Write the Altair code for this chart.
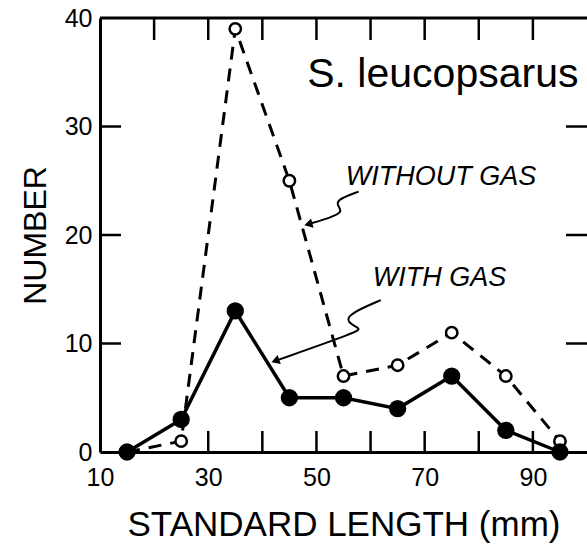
import altair as alt
import pandas as pd

# Data
lengths = [15, 25, 35, 45, 55, 65, 75, 85, 95]
without_gas = [0, 1, 39, 25, 7, 8, 11, 7, 1]
with_gas = [0, 3, 13, 5, 5, 4, 7, 2, 0]

x_ticks_top = [20, 30, 40, 50, 60, 70, 80, 90]
x_ticks_bottom = [30, 40, 50, 60, 70, 80, 90]
y_ticks = [10, 20, 30]
x_labels = [10, 30, 50, 70, 90]
y_labels = [0, 10, 20, 30, 40]

# annotation arrows (data coordinates)
arrow1_x = [57.8, 53.5, 54.1, 54.8, 52.6, 48.5]
arrow1_y = [24.0, 23.2, 22.6, 22.1, 21.6, 21.0]
arrow2_x = [61.9, 56.3, 55.4, 58.1, 57.8, 42.4]
arrow2_y = [14.0, 12.8, 12.0, 11.4, 11.1, 8.4]

W, H = 487, 434
FONT = "Liberation Sans"

xs = alt.Scale(domain=[10, 100], nice=False, zero=False)
ys = alt.Scale(domain=[0, 40], nice=False, zero=False)

df = pd.DataFrame({"x": lengths, "without": without_gas, "with": with_gas})

base = alt.Chart(df)

xax = alt.Axis(values=x_labels, ticks=False, grid=False, domainWidth=3, domainColor="black",
               labelFont=FONT, labelFontSize=25, labelColor="black", labelPadding=13,
               labelFlush=False, labelOverlap=False,
               title="STANDARD LENGTH (mm)", titleFont=FONT, titleFontSize=35,
               titleFontWeight="normal", titleColor="black", titlePadding=17)
yax = alt.Axis(values=y_labels, ticks=False, grid=False, domainWidth=3, domainColor="black",
               labelFont=FONT, labelFontSize=25, labelColor="black", labelPadding=8,
               labelFlush=False, labelOverlap=False,
               title="NUMBER", titleFont=FONT, titleFontSize=32,
               titleFontWeight="normal", titleColor="black", titlePadding=12)

dashed = base.mark_line(color="black", strokeWidth=3, strokeDash=[13, 9]).encode(
    x=alt.X("x:Q", scale=xs, axis=xax), y=alt.Y("without:Q", scale=ys, axis=yax))
solid = base.mark_line(color="black", strokeWidth=3.5).encode(
    x=alt.X("x:Q", scale=xs), y=alt.Y("with:Q", scale=ys))
open_pts = base.mark_point(shape="circle", size=130, filled=False, fill="white", fillOpacity=1,
                           color="black", strokeWidth=2.5, opacity=1).encode(
    x=alt.X("x:Q", scale=xs), y=alt.Y("without:Q", scale=ys))
filled_pts = base.mark_circle(size=300, color="black", opacity=1).encode(
    x=alt.X("x:Q", scale=xs), y=alt.Y("with:Q", scale=ys))

bottom_ticks = alt.Chart(pd.DataFrame({"v": x_ticks_bottom})).mark_rule(
    color="black", strokeWidth=2.5).encode(
    x=alt.X("v:Q", scale=xs), y=alt.value(H), y2=alt.value(H - 21))
top_ticks = alt.Chart(pd.DataFrame({"v": x_ticks_top})).mark_rule(
    color="black", strokeWidth=2.5).encode(
    x=alt.X("v:Q", scale=xs), y=alt.value(0), y2=alt.value(22))
yt = alt.Chart(pd.DataFrame({"v": y_ticks}))
left_ticks = yt.mark_rule(color="black", strokeWidth=2.5).encode(
    y=alt.Y("v:Q", scale=ys), x=alt.value(0), x2=alt.value(21))
right_ticks = yt.mark_rule(color="black", strokeWidth=2.5).encode(
    y=alt.Y("v:Q", scale=ys), x=alt.value(W - 21), x2=alt.value(W))
top_spine = alt.Chart(pd.DataFrame({"a": [0]})).mark_rule(color="black", strokeWidth=3).encode(
    x=alt.value(0), x2=alt.value(W), y=alt.value(0))

ann = pd.DataFrame({
    "x": [48.3, 55.4, 60.4],
    "y": [33.6, 24.6, 15.3],
    "t": ["S. leucopsarus", "WITHOUT GAS", "WITH GAS"],
})
title_txt = alt.Chart(ann.iloc[[0]]).mark_text(align="left", baseline="alphabetic", font=FONT,
                                               fontSize=41, color="black").encode(
    x=alt.X("x:Q", scale=xs), y=alt.Y("y:Q", scale=ys), text="t:N")
lab_txt = alt.Chart(ann.iloc[1:]).mark_text(align="left", baseline="alphabetic", font=FONT,
                                            fontSize=27, fontStyle="italic", color="black").encode(
    x=alt.X("x:Q", scale=xs), y=alt.Y("y:Q", scale=ys), text="t:N")

a1 = pd.DataFrame({"x": arrow1_x, "y": arrow1_y, "o": list(range(len(arrow1_x)))})
a2 = pd.DataFrame({"x": arrow2_x, "y": arrow2_y, "o": list(range(len(arrow2_x)))})
arr1 = alt.Chart(a1).mark_line(color="black", strokeWidth=2, interpolate="basis").encode(
    x=alt.X("x:Q", scale=xs), y=alt.Y("y:Q", scale=ys), order="o:Q")
arr2 = alt.Chart(a2).mark_line(color="black", strokeWidth=2, interpolate="basis").encode(
    x=alt.X("x:Q", scale=xs), y=alt.Y("y:Q", scale=ys), order="o:Q")
head1 = alt.Chart(a1.iloc[[-1]]).mark_point(shape="triangle-left", filled=True, size=90,
                                            color="black", opacity=1, angle=345).encode(
    x=alt.X("x:Q", scale=xs), y=alt.Y("y:Q", scale=ys))
head2 = alt.Chart(a2.iloc[[-1]]).mark_point(shape="triangle-left", filled=True, size=90,
                                            color="black", opacity=1, angle=340).encode(
    x=alt.X("x:Q", scale=xs), y=alt.Y("y:Q", scale=ys))

chart = alt.layer(
    top_spine, bottom_ticks, top_ticks, left_ticks, right_ticks,
    dashed, solid, open_pts, filled_pts,
    title_txt, lab_txt, arr1, arr2, head1, head2,
).properties(
    width=W, height=H,
    autosize=alt.AutoSizeParams(type="none"),
    padding={"left": 100, "top": 18, "right": 0, "bottom": 94},
).configure_view(stroke=None).configure(background="white")

chart.save("out.html", embed_options={"renderer": "svg", "actions": False})
